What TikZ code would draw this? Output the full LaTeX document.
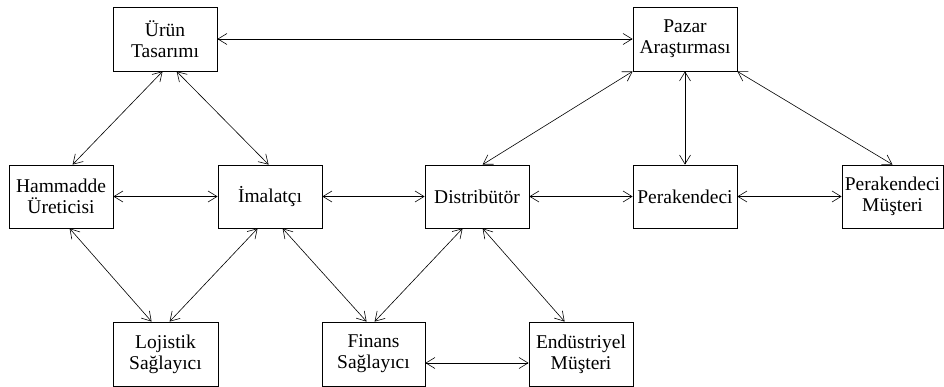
\documentclass[tikz,border=0pt]{standalone}
\usepackage{fontspec}
\setmainfont{Liberation Serif}
\usetikzlibrary{arrows.meta}
\begin{document}
\begin{tikzpicture}[x=1pt,y=-1pt,
  box/.style={draw, line width=0.8pt, inner sep=0pt, align=center,
    minimum width=104pt, minimum height=64pt,
    font=\fontsize{19.5}{21}\selectfont},
  barb/.tip={Straight Barb[length=9pt,width=11pt]},
  link/.style={line width=0.6pt, barb-barb}]
\useasboundingbox (0,0) rectangle (944,387);

% top row
\node[box] (urun)  at (165,39)  {Ürün\\Tasarımı};
\node[box] (pazar) at (685,39)  {Pazar\\Araştırması};
% middle row
\node[box, minimum height=63pt] (hammadde) at (61,196.5)  {Hammadde\\Üreticisi};
\node[box, minimum height=63pt] (imalatci) at (270,196.5) {İmalatçı};
\node[box, minimum height=63pt] (dist)     at (477,196.5) {Distribütör};
\node[box, minimum height=63pt] (perak)    at (685,196.5) {Perakendeci};
\node[box, minimum height=63pt, minimum width=101pt] (pmus) at (892.5,196.5) {Perakendeci\\Müşteri};
% bottom row
\node[box, minimum width=105pt] (lojistik) at (165.5,354) {Lojistik\\Sağlayıcı};
\node[box, minimum width=103pt] (finans)   at (373.5,354) {Finans\\Sağlayıcı};
\node[box] (endus) at (581,354) {Endüstriyel\\Müşteri};

% horizontal links
\draw[link] (urun.east) -- (pazar.west);
\draw[link] (hammadde.east) -- (imalatci.west);
\draw[link] (imalatci.east) -- (dist.west);
\draw[link] (dist.east) -- (perak.west);
\draw[link] (perak.east) -- (pmus.west);
\draw[link] ([yshift=-9pt]finans.east) -- ([yshift=-9pt]endus.west);

% links from the top row
\draw[link] ([xshift=50pt]urun.south west) -- ([xshift=64pt]hammadde.north west);
\draw[link] ([xshift=64pt]urun.south west) -- ([xshift=51pt]imalatci.north west);
\draw[link] (pazar.south west) -- ([xshift=58pt]dist.north west);
\draw[link] (pazar.south) -- (perak.north);
\draw[link] (pazar.south east) -- (pmus.north);

% links to the bottom row
\draw[link] ([xshift=61pt]hammadde.south west) -- ([xshift=39pt]lojistik.north west);
\draw[link] ([xshift=40pt]imalatci.south west) -- ([xshift=57pt]lojistik.north west);
\draw[link] ([xshift=65pt]imalatci.south west) -- ([xshift=45pt]finans.north west);
\draw[link] ([xshift=38pt]dist.south west) -- ([xshift=53pt]finans.north west);
\draw[link] ([xshift=58pt]dist.south west) -- ([xshift=36pt]endus.north west);
\end{tikzpicture}
\end{document}
